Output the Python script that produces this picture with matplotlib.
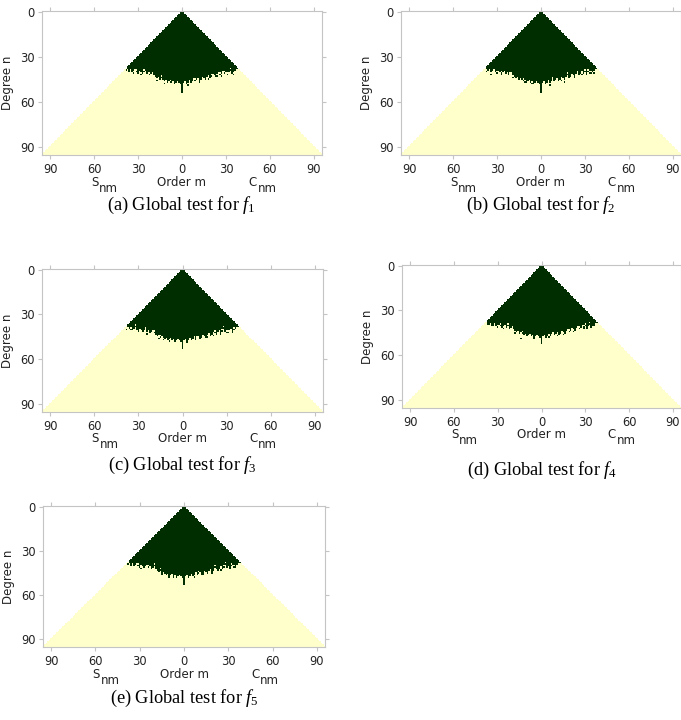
import numpy as np
import matplotlib.pyplot as plt
from matplotlib.colors import ListedColormap
from matplotlib.transforms import blended_transform_factory, offset_copy

plt.rcParams['mathtext.fontset'] = 'custom'
plt.rcParams['mathtext.rm'] = 'Liberation Serif'
plt.rcParams['mathtext.it'] = 'Liberation Serif:italic'

# === datos: grado/orden de los coeficientes ===
n_max = 95
orders = list(range(-37, 39))
# grado maximo significativo (verde oscuro) para cada orden m
cutoff = [38, 39, 38, 40, 39, 38, 40, 41, 39, 40,
          41, 40, 39, 41, 40, 42, 41, 40, 42, 43,
          44, 43, 45, 44, 45, 46, 45, 47, 46, 45,
          47, 46, 48, 47, 46, 47, 48, 47, 47, 46,
          48, 47, 45, 47, 46, 44, 46, 45, 44, 46,
          45, 43, 44, 45, 43, 42, 44, 43, 41, 42,
          43, 41, 40, 42, 41, 39, 41, 40, 42, 40,
          39, 41, 40, 39, 38, 38]
spike_depth = [54, 54, 53, 52, 53]  # orden m=0
# celdas sueltas significativas (m, n)
extra_cells = [
    [(-33, 41), (-28, 42), (-8, 47), (12, 47), (27, 43), (-36, 40),
     (-38, 39), (-17, 46), (-12, 48), (4, 49), (18, 45), (24, 43), (35, 42)],
    [(-34, 42), (-27, 42), (-6, 48), (14, 46), (28, 42), (33, 41),
     (-37, 40), (-19, 44), (-11, 47), (6, 49), (16, 47), (23, 44), (36, 41)],
    [(-35, 40), (-24, 43), (-9, 48), (9, 47), (26, 43), (30, 42),
     (-38, 40), (-16, 46), (-13, 47), (3, 49), (17, 45), (21, 44), (34, 42)],
    [(-33, 40), (-26, 42), (-5, 49), (11, 47), (29, 42), (34, 41),
     (-37, 39), (-18, 45), (-14, 49), (5, 48), (15, 46), (22, 44), (36, 40)],
    [(-36, 40), (-29, 42), (-7, 48), (13, 46), (25, 43), (31, 42),
     (-38, 39), (-15, 46), (-10, 48), (7, 48), (19, 45), (24, 42), (35, 41)],
]
# huecos no significativos (m, n)
holes = [
    [(29, 40), (31, 41), (33, 38), (-31, 39), (-22, 41), (20, 42),
     (-26, 39), (-14, 43), (9, 45), (26, 41)],
    [(30, 39), (32, 39), (34, 40), (-30, 40), (-21, 41), (18, 41),
     (-27, 40), (-12, 45), (8, 44), (25, 40)],
    [(28, 38), (31, 41), (35, 39), (-32, 37), (-19, 41), (22, 41),
     (-25, 39), (-15, 44), (10, 45), (27, 40)],
    [(29, 40), (30, 39), (33, 38), (-30, 40), (-23, 39), (19, 43),
     (-28, 39), (-13, 44), (7, 46), (26, 41)],
    [(28, 38), (32, 39), (34, 40), (-31, 39), (-20, 39), (21, 40),
     (-24, 40), (-16, 42), (10, 44), (27, 40)],
]
captions = ['(a) Global test for $f_{\\mathrm{1}}$',
            '(b) Global test for $f_{\\mathrm{2}}$',
            '(c) Global test for $f_{\\mathrm{3}}$',
            '(d) Global test for $f_{\\mathrm{4}}$',
            '(e) Global test for $f_{\\mathrm{5}}$']
xticks = [-90, -60, -30, 0, 30, 60, 90]
xticklabels = ['90', '60', '30', '0', '30', '60', '90']
yticks = [0, 30, 60, 90]

# posiciones de los paneles en pixeles: izquierda, arriba, ancho, alto
W, H = 681, 720
boxes = [(42, 11, 280, 144), (401, 11, 280, 144),
         (42, 269, 281, 143), (402, 265, 279, 143),
         (43, 506, 282, 141)]
caption_pos = [(181, 205), (541, 205), (182, 465), (542, 470), (184, 698)]


def build_grid(k):
    n = np.arange(0, n_max + 1)[:, None]
    m = np.arange(-n_max, n_max + 1)[None, :]
    grid = np.where(np.abs(m) <= n, 0.0, np.nan)
    for mi, c in zip(orders, cutoff):
        if c >= abs(mi):
            grid[abs(mi):c + 1, mi + n_max] = 1
    grid[:spike_depth[k] + 1, n_max] = 1
    for mi, ni in extra_cells[k]:
        grid[ni, mi + n_max] = 1
    for mi, ni in holes[k]:
        grid[ni, mi + n_max] = 0
    grid[0, n_max] = 0
    return grid


cmap = ListedColormap(['#ffffcc', '#002e00'])
cmap.set_bad((1, 1, 1, 0))

fig = plt.figure(figsize=(W / 100, H / 100), dpi=100)
gris = '#c4c4c4'
txt = '#222222'
for k, (l, t, w, h) in enumerate(boxes):
    ax = fig.add_axes([l / W, 1 - (t + h) / H, w / W, h / H])
    ax.imshow(build_grid(k), cmap=cmap, vmin=0, vmax=1, aspect='auto',
              extent=[-n_max - 0.5, n_max + 0.5, n_max + 0.5, -0.5],
              interpolation='nearest')
    for s in ['left', 'top', 'right', 'bottom']:
        ax.spines[s].set_color(gris)
        ax.spines[s].set_linewidth(0.8)
    ax.set_xticks(xticks)
    ax.set_xticklabels(xticklabels)
    ax.set_yticks(yticks)
    ax.tick_params(direction='out', length=3, width=0.8, color=gris,
                   labelsize=8.3, labelcolor=txt, pad=2.5,
                   top=True, right=True)
    ax.set_ylabel('Degree n', fontsize=8.5, color=txt, labelpad=4)
    tr = blended_transform_factory(ax.transData, ax.transAxes)
    tr_sub = offset_copy(tr, fig=fig, y=-6, units='dots')
    yl = -27 / h
    ax.text(0, yl, 'Order m', transform=tr, ha='center', va='center',
            fontsize=8.5, color=txt)
    for xm, letra in [(-57, 'S'), (51, 'C')]:
        ax.text(xm, yl, letra, transform=tr, ha='right', va='center',
                fontsize=8.5, color=txt)
        ax.text(xm + 0.5, yl, 'nm', transform=tr_sub, ha='left',
                va='center', fontsize=8.5, color=txt)
    cx, cy = caption_pos[k]
    fig.text(cx / W, 1 - cy / H, captions[k], ha='center', va='center',
             fontsize=13.2, family='Liberation Serif', color='black')

fig.savefig('out.png', dpi=100)
